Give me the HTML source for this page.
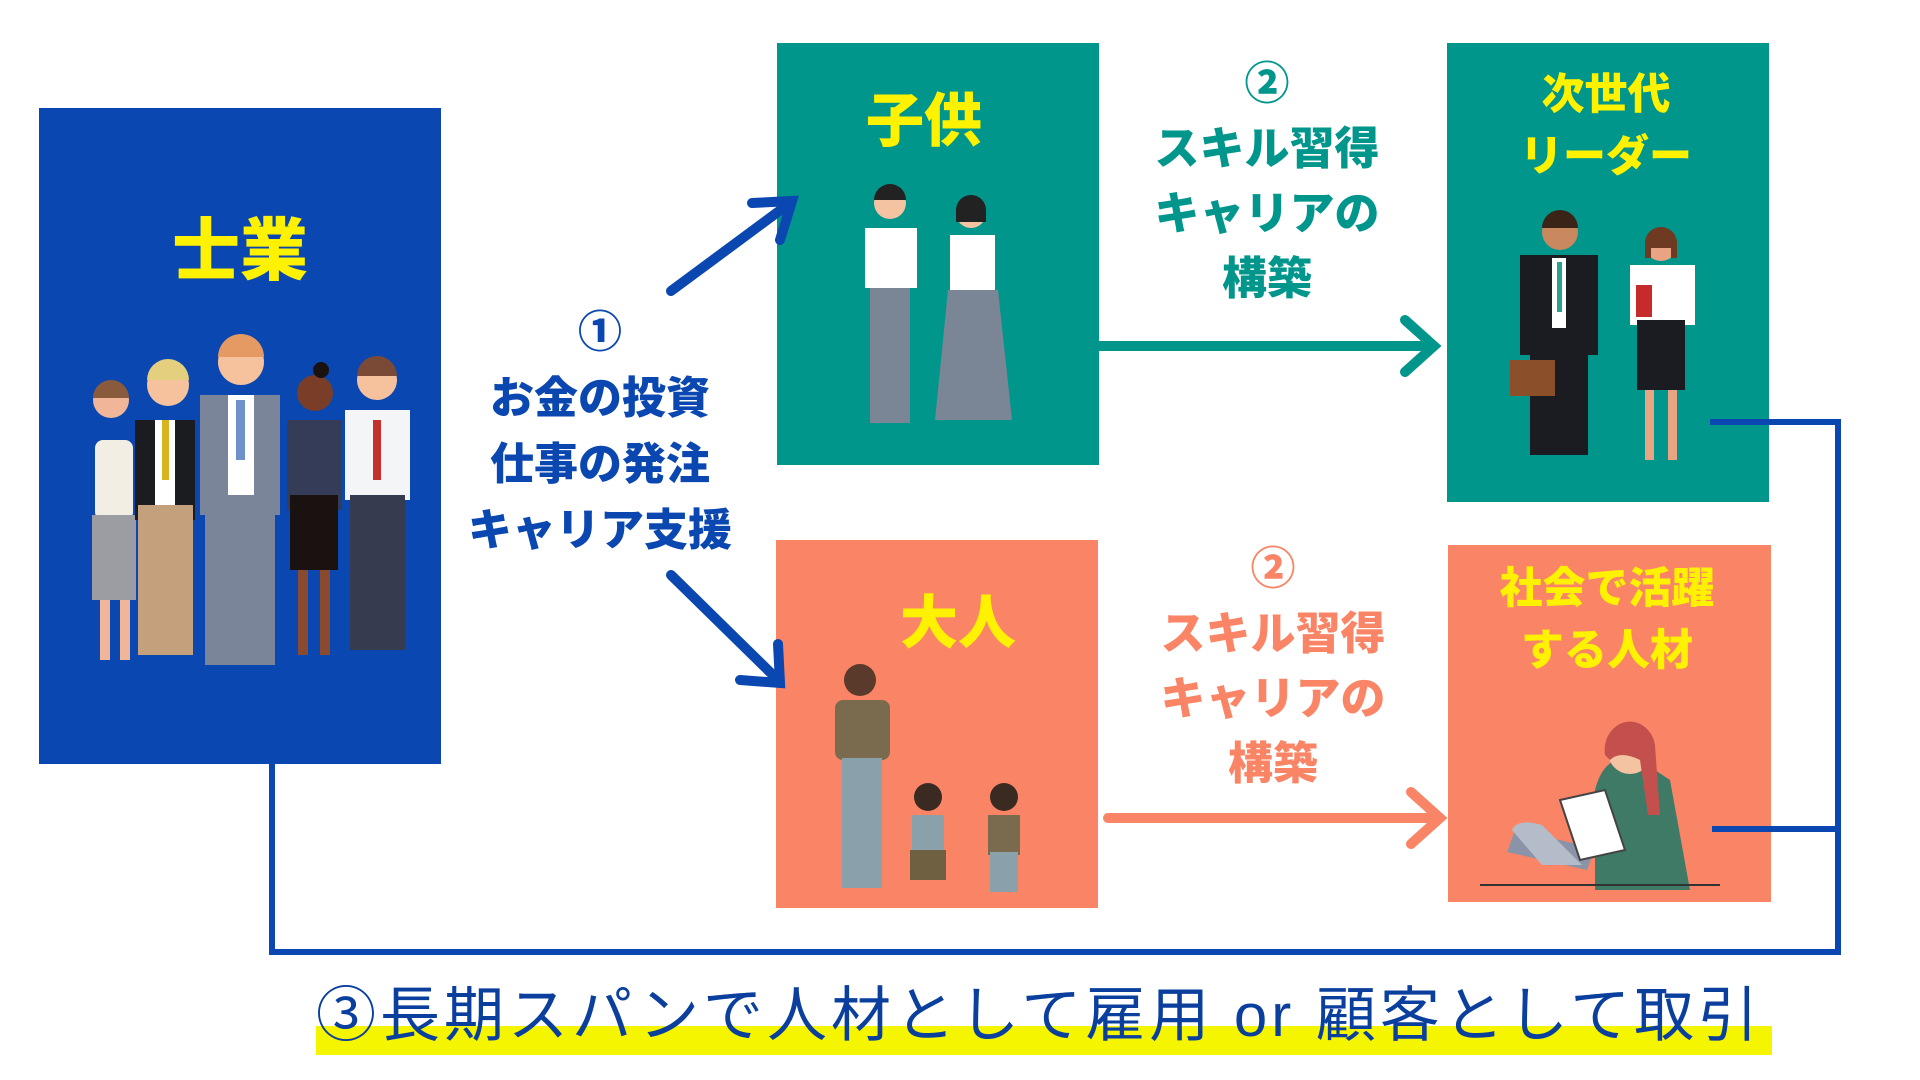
<!DOCTYPE html>
<html><head><meta charset="utf-8">
<style>
html,body{margin:0;padding:0;background:#fff;width:1920px;height:1080px;overflow:hidden}
body{position:relative;font-family:"Liberation Sans","Noto Sans CJK JP",sans-serif}
.b{position:absolute}
.t{position:absolute;transform:translate(-50%,-50%);white-space:nowrap;font-weight:900;text-align:center}
</style></head><body>
<div class="b" style="left:39px;top:108px;width:402px;height:656px;background:#0a47b0"></div>
<div class="b" style="left:777px;top:43px;width:322px;height:422px;background:#00968c"></div>
<div class="b" style="left:1447px;top:43px;width:322px;height:459px;background:#00968c"></div>
<div class="b" style="left:776px;top:540px;width:322px;height:368px;background:#fa8566"></div>
<div class="b" style="left:1448px;top:545px;width:323px;height:357px;background:#fa8566"></div>

<svg class="b" style="left:0;top:0" width="1920" height="1080">
<g fill="none" stroke="#0a47b0" stroke-width="6">
<polyline points="272,764 272,952 1838,952 1838,422 1710,422"/>
<line x1="1712" y1="829" x2="1838" y2="829"/>
</g>
<g stroke="#0a47b0" stroke-width="10" fill="none" stroke-linecap="round">
<line x1="671" y1="291" x2="790" y2="203"/>
<polyline points="752,203 792,201 780,240"/>
<line x1="671" y1="575" x2="778" y2="680"/>
<polyline points="740,680 780,683 778,644"/>
</g>
<g stroke="#00968c" stroke-width="10" fill="none" stroke-linecap="round">
<line x1="1099" y1="346" x2="1432" y2="346"/>
<polyline points="1405,320 1434,346 1405,372"/>
</g>
<g stroke="#fa8566" stroke-width="10" fill="none" stroke-linecap="round">
<line x1="1108" y1="818" x2="1438" y2="818"/>
<polyline points="1411,792 1440,818 1411,844"/>
</g>
<g>
<rect x="95" y="440" width="38" height="80" rx="8" fill="#f3eee3"/><rect x="92" y="515" width="44" height="85" fill="#9b9da3"/><rect x="100" y="600" width="10" height="60" fill="#f1b69a"/><rect x="120" y="600" width="10" height="60" fill="#f1b69a"/><circle cx="111" cy="400" r="18" fill="#f1b69a"/><path d="M93 398 a18 18 0 0 1 36 0 z" fill="#8a5a3c"/>
<rect x="135" y="420" width="60" height="100" fill="#1b1c20"/><rect x="155" y="420" width="20" height="90" fill="#fff"/><rect x="162" y="420" width="7" height="60" fill="#d9b320"/><rect x="138" y="505" width="55" height="150" fill="#c4a07c"/><circle cx="168" cy="385" r="21" fill="#f6c29e"/><path d="M147 380 a21 21 0 0 1 42 0 z" fill="#e3cf7d"/>
<rect x="200" y="395" width="80" height="120" fill="#7a8599"/><rect x="228" y="395" width="26" height="100" fill="#fff"/><rect x="236" y="400" width="9" height="60" fill="#6d91c8"/><rect x="205" y="495" width="70" height="170" fill="#7a8599"/><circle cx="241" cy="362" r="23" fill="#f6c29e"/><path d="M218 357 a23 23 0 0 1 46 0 z" fill="#e59a63"/>
<rect x="287" y="420" width="55" height="90" fill="#343c58"/><rect x="290" y="495" width="48" height="75" fill="#1a1210"/><rect x="298" y="570" width="10" height="85" fill="#8a4a30"/><rect x="320" y="570" width="10" height="85" fill="#8a4a30"/><circle cx="315" cy="393" r="18" fill="#7a3e28"/><circle cx="321" cy="370" r="8" fill="#1a1210"/>
<rect x="345" y="410" width="65" height="90" fill="#f4f5f7"/><rect x="373" y="420" width="8" height="60" fill="#c6302c"/><rect x="350" y="495" width="55" height="155" fill="#353c4f"/><circle cx="377" cy="380" r="20" fill="#f6c29e"/><path d="M357 376 a20 20 0 0 1 40 0 z" fill="#7b4a36"/>
</g>
<g>
<rect x="865" y="228" width="52" height="60" fill="#fff"/><rect x="870" y="288" width="40" height="135" fill="#7a8595"/><circle cx="890" cy="203" r="16" fill="#f4c3a2"/><path d="M874 200 a16 16 0 0 1 32 0 z" fill="#222"/>
<rect x="950" y="235" width="45" height="55" fill="#fff"/><path d="M948 290 L998 290 L1012 420 L935 420 Z" fill="#7a8595"/><circle cx="971" cy="213" r="15" fill="#f4c3a2"/><path d="M956 210 a15 15 0 0 1 30 0 v12 h-30 z" fill="#222"/>
</g>
<g>
<rect x="1520" y="255" width="78" height="100" fill="#1b1c22"/><rect x="1552" y="258" width="14" height="70" fill="#fff"/><rect x="1557" y="262" width="5" height="50" fill="#2aa08f"/><rect x="1530" y="350" width="58" height="105" fill="#1b1c22"/><rect x="1510" y="360" width="45" height="36" fill="#8b4f2a"/><circle cx="1560" cy="232" r="18" fill="#c9885e"/><path d="M1542 228 a18 18 0 0 1 36 0 z" fill="#3a2418"/>
<rect x="1630" y="265" width="65" height="60" fill="#fff"/><rect x="1637" y="320" width="48" height="70" fill="#1b1c22"/><rect x="1645" y="390" width="9" height="70" fill="#e9a583"/><rect x="1668" y="390" width="9" height="70" fill="#e9a583"/><rect x="1636" y="285" width="16" height="32" fill="#c52b2b"/><circle cx="1661" cy="245" r="16" fill="#e9a583"/><path d="M1645 243 a16 16 0 0 1 32 0 v15 h-6 v-10 h-20 v10 h-6 z" fill="#6e3a22"/>
</g>
<g>
<rect x="835" y="700" width="55" height="60" rx="8" fill="#7a6a4e"/><rect x="842" y="758" width="40" height="130" fill="#8aa0aa"/><circle cx="860" cy="680" r="16" fill="#5a3a2a"/>
<rect x="912" y="815" width="32" height="40" fill="#8aa0aa"/><rect x="910" y="850" width="36" height="30" fill="#6e6040"/><circle cx="928" cy="797" r="14" fill="#3a2a22"/>
<rect x="988" y="815" width="32" height="40" fill="#7a6a4e"/><rect x="990" y="852" width="28" height="40" fill="#8aa0aa"/><circle cx="1004" cy="797" r="14" fill="#3a2a22"/>
</g>
<g>
<path d="M1595 790 q10 -40 45 -30 l30 20 l20 110 h-95 z" fill="#3f7a66"/><circle cx="1630" cy="752" r="22" fill="#f4c3a2"/><path d="M1605 755 a25 28 0 0 1 50 -10 l5 70 h-12 l-8 -55 q-20 -10 -30 0 z" fill="#c4504e"/>
<path d="M1515 830 l80 18 l-8 22 l-80 -18 z" fill="#8a93a8"/><path d="M1512 830 q5 -12 30 -5 l40 40 h-40 z" fill="#b4bcca"/><path d="M1560 800 l45 -10 l20 60 l-45 10 z" fill="#fff" stroke="#444" stroke-width="2"/>
<line x1="1480" y1="885" x2="1720" y2="885" stroke="#333" stroke-width="2"/>
</g>
</svg>

<div class="t" style="left:240px;top:245px;font-size:68px;color:#fff200">士業</div>
<div class="t" style="left:924px;top:116px;font-size:58px;color:#fff200">子供</div>
<div class="t" style="left:958px;top:618px;font-size:58px;color:#fff200">大人</div>
<div class="t" style="left:1606px;top:126px;font-size:43px;line-height:62px;color:#fff200">次世代<br>リーダー</div>
<div class="t" style="left:1607px;top:620px;font-size:43px;line-height:62px;color:#fff200">社会で活躍<br>する人材</div>
<div class="t" style="left:600px;top:432px;font-size:44px;line-height:66px;color:#0a47b0">①<br>お金の投資<br>仕事の発注<br>キャリア支援</div>
<div class="t" style="left:1267px;top:181px;font-size:45px;line-height:65px;color:#00968c">②<br>スキル習得<br>キャリアの<br>構築</div>
<div class="t" style="left:1273px;top:666px;font-size:45px;line-height:65px;color:#fa8566">②<br>スキル習得<br>キャリアの<br>構築</div>
<div class="b" style="left:316px;top:1026px;width:1456px;height:29px;background:#f5f500"></div>
<div class="b" style="left:316px;top:982px;font-size:60px;letter-spacing:4px;line-height:68px;color:#0a3f9e;white-space:nowrap">③長期スパンで人材として雇用 or 顧客として取引</div>
</body></html>
